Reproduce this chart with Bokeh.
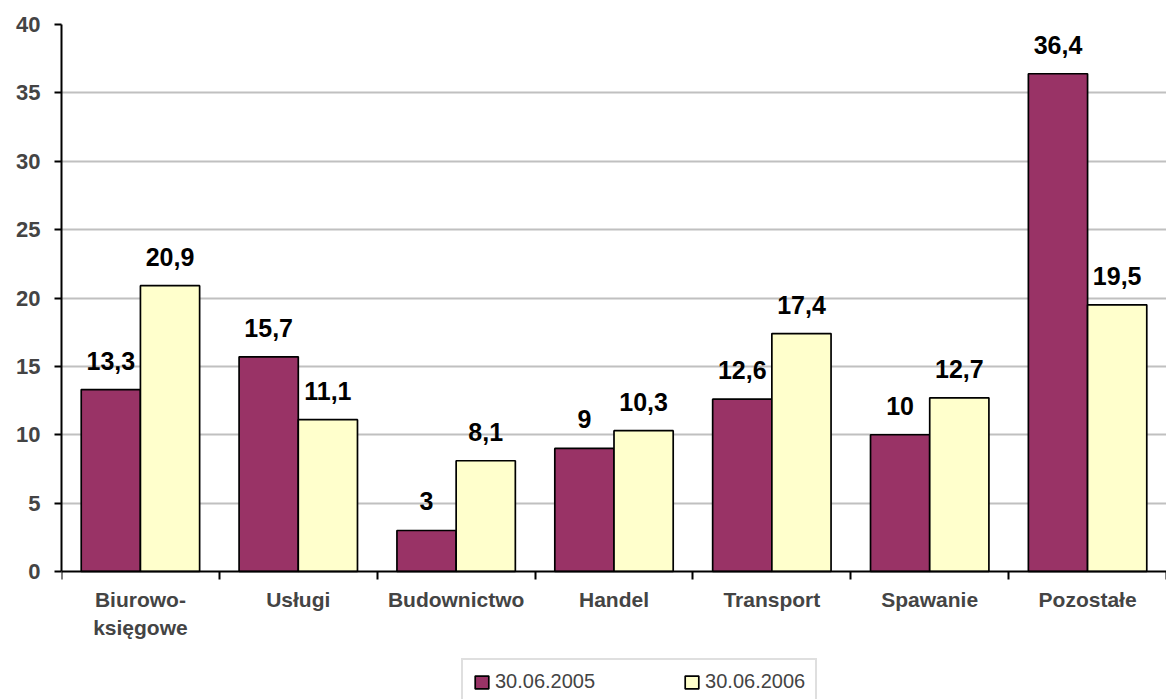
from bokeh.plotting import figure
from bokeh.models import ColumnDataSource, Range1d, FixedTicker, Legend, LegendItem, LinearAxis
from bokeh.core.properties import value
from bokeh.embed import file_html
from bokeh.resources import INLINE

categories = ["Biurowo-\nksięgowe", "Usługi", "Budownictwo", "Handel", "Transport", "Spawanie", "Pozostałe"]
series_names = ["30.06.2005", "30.06.2006"]
values_2005 = [13.3, 15.7, 3, 9, 12.6, 10, 36.4]
values_2006 = [20.9, 11.1, 8.1, 10.3, 17.4, 12.7, 19.5]
y_ticks = [0, 5, 10, 15, 20, 25, 30, 35, 40]

FONT = "Liberation Sans"
n = len(categories)
centers = [i + 0.5 for i in range(n)]
bw = 0.375
off = 0.1875

W, H = 1166, 699
TOP, LEFT = 24, 61
px_per_unit = (571 - 24) / 40.0
y_min = -((H - TOP) / px_per_unit - 40)

def fmt(v):
    return f"{v:g}".replace(".", ",")

src1 = ColumnDataSource(dict(x=[c - off for c in centers], top=values_2005,
                             lab=[fmt(v) for v in values_2005]))
src2 = ColumnDataSource(dict(x=[c + off for c in centers], top=values_2006,
                             lab=[fmt(v) for v in values_2006]))

p = figure(width=W, height=H, output_backend="svg", toolbar_location=None,
           x_range=Range1d(0, n), y_range=Range1d(y_min, 40),
           x_axis_location=None,
           min_border_left=LEFT, min_border_top=TOP, min_border_right=0, min_border_bottom=0)
p.outline_line_color = None
p.xgrid.visible = False
p.ygrid.ticker = FixedTicker(ticks=y_ticks[1:])
p.ygrid.grid_line_color = "#c0c0c0"
p.ygrid.grid_line_width = 2

r1 = p.vbar(x="x", top="top", width=bw, source=src1, fill_color="#993366",
            line_color="black", line_width=1.7)
r2 = p.vbar(x="x", top="top", width=bw, source=src2, fill_color="#FFFFCC",
            line_color="black", line_width=1.7)

for s in (src1, src2):
    p.text(x="x", y="top", text="lab", source=s, text_font=value(FONT),
           text_font_style="bold", text_font_size="25px", text_align="center",
           text_baseline="alphabetic", y_offset=-29, text_color="black")

# y axis
ya = p.yaxis[0]
ya.ticker = FixedTicker(ticks=y_ticks, minor_ticks=[])
ya.bounds = (0, 40)
ya.axis_line_width = 2
ya.axis_line_color = "black"
ya.major_tick_out = 7
ya.major_tick_in = 0
ya.major_tick_line_width = 2
ya.minor_tick_out = 0
ya.minor_tick_in = 0
ya.major_label_text_font = FONT
ya.major_label_text_font_style = "bold"
ya.major_label_text_font_size = "22px"
ya.major_label_standoff = 14

# x axis fixed at y = 0
xa = LinearAxis(fixed_location=0)
xa.ticker = FixedTicker(ticks=centers, minor_ticks=list(range(n + 1)))
xa.major_label_overrides = {c: lab for c, lab in zip(centers, categories)}
xa.axis_line_width = 2
xa.axis_line_color = "black"
xa.major_tick_out = 0
xa.major_tick_in = 0
xa.minor_tick_out = 8
xa.minor_tick_in = 0
xa.minor_tick_line_width = 2
xa.minor_tick_line_color = "black"
xa.major_label_text_font = FONT
xa.major_label_text_font_style = "bold"
xa.major_label_text_font_size = "21px"
xa.major_label_standoff = 8
xa.major_label_text_line_height = 1.25
p.add_layout(xa, "below")

legend = Legend(items=[LegendItem(label=series_names[0], renderers=[r1]),
                       LegendItem(label=series_names[1], renderers=[r2])],
                orientation="horizontal", location=(400, -6),
                padding=10, spacing=88, glyph_width=17, glyph_height=16,
                label_standoff=5, label_text_font=FONT, label_text_font_size="20px",
                border_line_color="#c0c0c0", border_line_width=2,
                background_fill_alpha=1, margin=0)
p.add_layout(legend, "center")

open("out.html", "w").write(file_html(p, INLINE))
